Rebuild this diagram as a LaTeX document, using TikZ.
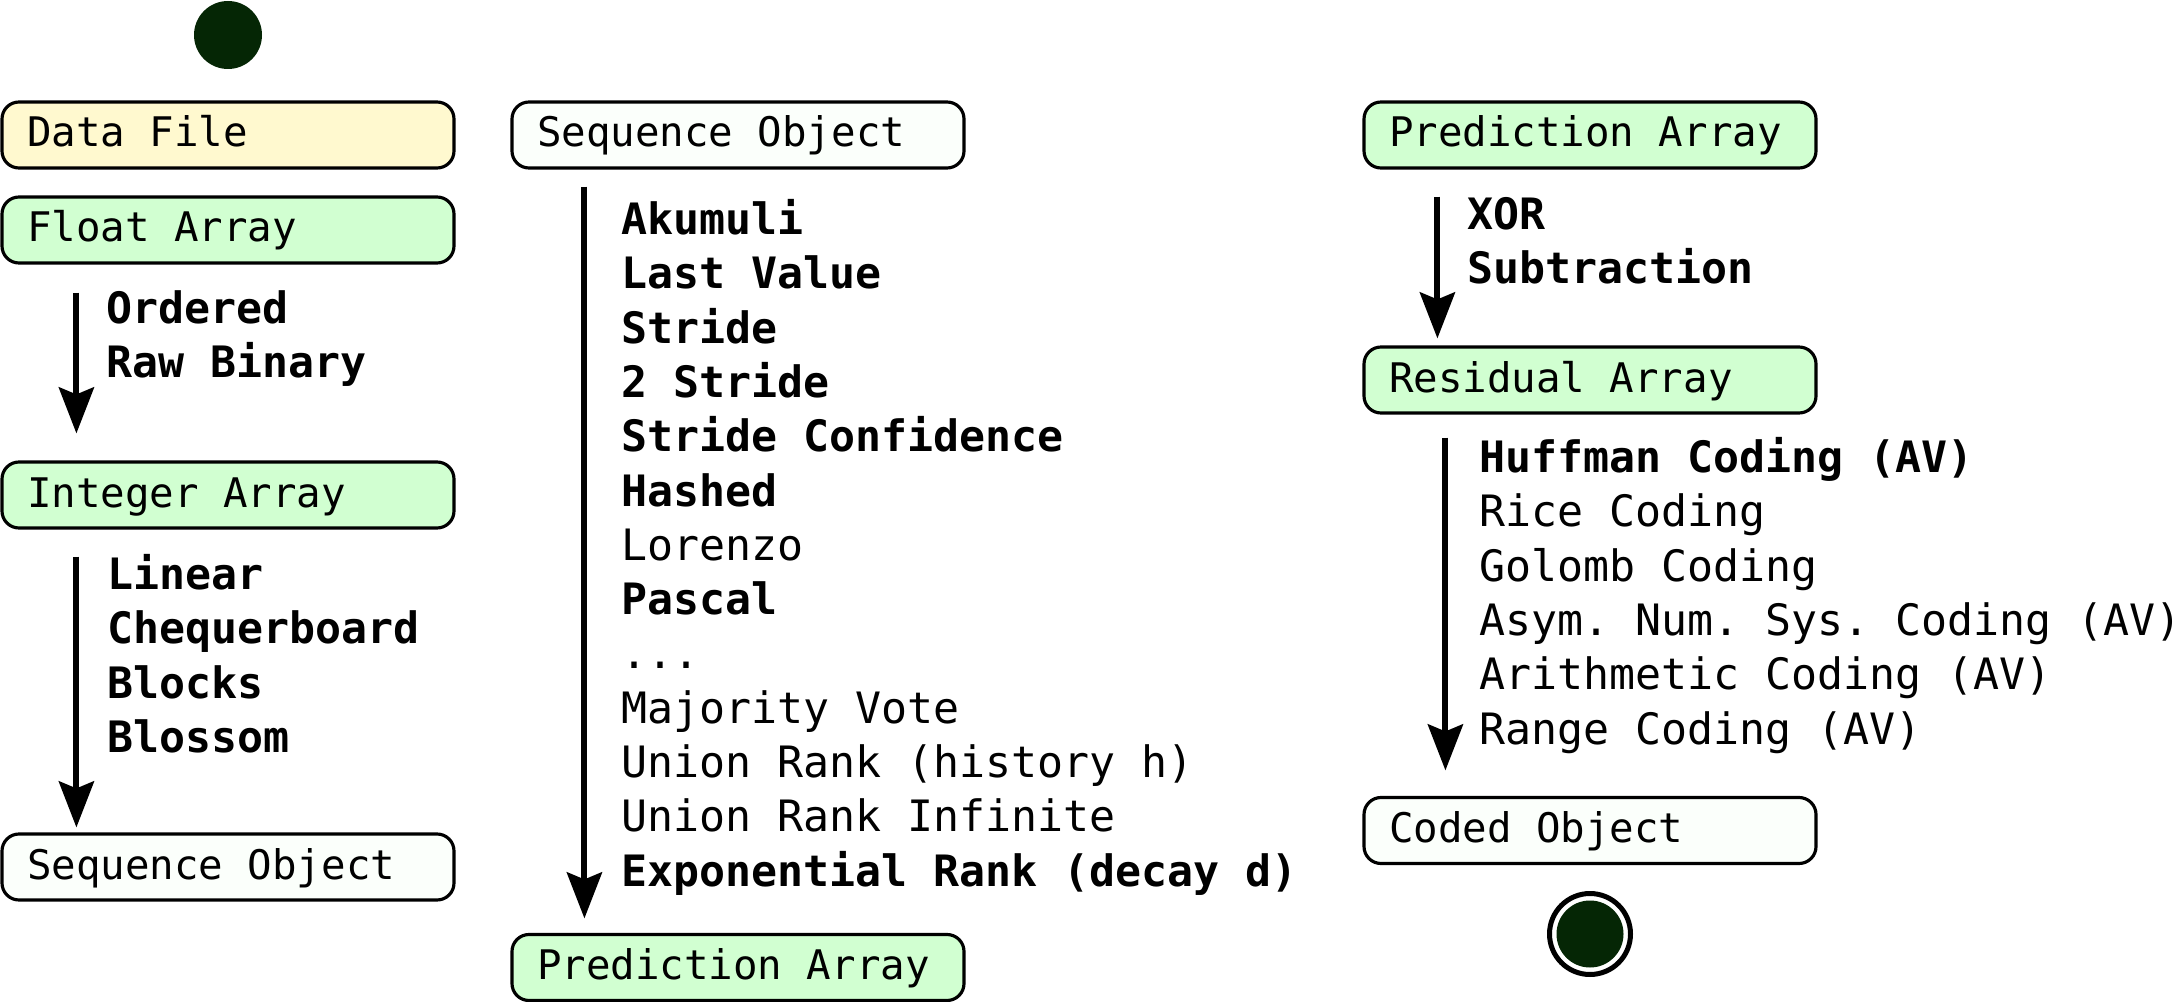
\documentclass[tikz,border=0pt]{standalone}
\usepackage{fontspec}
\setmonofont{DejaVu Sans Mono}
\usetikzlibrary{arrows.meta}
\definecolor{nodedark}{HTML}{052605}
\definecolor{filegold}{HTML}{FFF9CF}
\definecolor{arraygreen}{HTML}{D1FFD1}
\definecolor{objwhite}{HTML}{FBFFFB}
\newcommand{\boxfont}{\ttfamily\fontsize{11.6}{14}\selectfont}
\newcommand{\stepfont}{\ttfamily\fontsize{12.3}{15}\selectfont}
\newcommand{\skipdots}{...}
\tikzset{>={Stealth[length=4.6mm,width=3.5mm,inset=0.7mm]},
  state/.style={draw, line width=0.9pt, rounded corners=1.7mm, text width=4.02cm,
    inner xsep=2.5mm, inner ysep=0pt, minimum height=0.66cm, text height=3.2mm, text depth=0.8mm, font=\boxfont,
    execute at begin node={\spaceskip=0pt\xspaceskip=0pt\relax}},
  startdot/.style={circle, fill=nodedark, minimum size=0.68cm, inner sep=0pt},
  finish/.style={circle, draw, line width=0.5mm, fill=white, minimum size=0.81cm, inner sep=0pt},
  finishdot/.style={circle, fill=nodedark, minimum size=0.67cm, inner sep=0pt},
  flow/.style={->, line width=1.7pt},
  steplabel/.style={anchor=base west, inner sep=0pt, font=\stepfont},
  stepbold/.style={steplabel, font=\stepfont\bfseries}}

\begin{document}
\begin{tikzpicture}
    \useasboundingbox (0,0) rectangle (21.82,-10.02);

    \node[startdot] (init) at (2.28,-0.35) {};
    \node[state, fill=filegold] (datafile) at (2.28,-1.35) {Data File};
    \node[state, fill=arraygreen] (floatarr) at (2.28,-2.30) {Float Array};
    \node[state, fill=arraygreen] (intarr) at (2.28,-4.95) {Integer Array};
    \node[state, fill=objwhite] (seqleft) at (2.28,-8.67) {Sequence Object};

    \node[state, fill=objwhite] (seqmid) at (7.38,-1.35) {Sequence Object};
    \node[state, fill=arraygreen] (predmid) at (7.38,-9.675) {Prediction Array};

    \node[state, fill=arraygreen] (predright) at (15.90,-1.35) {Prediction Array};
    \node[state, fill=arraygreen] (resarr) at (15.90,-3.80) {Residual Array};
    \node[state, fill=objwhite] (coded) at (15.90,-8.305) {Coded Object};
    \node[finish] (final) at (15.90,-9.34) {};
    \node[finishdot] (finaldot) at (final) {};

    \draw[flow] ([xshift=7.6mm,yshift=-2.8mm]floatarr.south west) -- ([xshift=7.6mm,yshift=2.7mm]intarr.north west);
    \draw[flow] ([xshift=7.6mm,yshift=-2.7mm]intarr.south west) -- ([xshift=7.6mm,yshift=0.5mm]seqleft.north west);
    \draw[flow] ([xshift=7.4mm,yshift=-1.7mm]seqmid.south west) -- ([xshift=7.4mm,yshift=1.45mm]predmid.north west);
    \draw[flow] ([xshift=7.5mm,yshift=-2.7mm]predright.south west) -- ([xshift=7.5mm,yshift=0.7mm]resarr.north west);
    \draw[flow] ([xshift=8.3mm,yshift=-2.3mm]resarr.south west) -- ([xshift=8.3mm,yshift=2.55mm]coded.north west);

    \foreach \txt [count=\i from 0] in {Ordered, Raw Binary}
        \node[stepbold] (float\i) at ([xshift=10.5mm,yshift={-5.9mm-\i*5.43mm}]floatarr.south west) {\txt};
    \foreach \txt [count=\i from 0] in {Linear, Chequerboard, Blocks, Blossom}
        \node[stepbold] (int\i) at ([xshift=10.6mm,yshift={-6.0mm-\i*5.43mm}]intarr.south west) {\txt};
    \foreach \txt [count=\i from 0] in {\textbf{Akumuli}, \textbf{Last Value}, \textbf{Stride}, \textbf{2 Stride},
        \textbf{Stride Confidence}, \textbf{Hashed}, Lorenzo, \textbf{Pascal}, \skipdots, Majority Vote,
        Union Rank (history h), Union Rank Infinite, \textbf{Exponential Rank (decay d)}}
        \node[steplabel] (pred\i) at ([xshift=11.0mm,yshift={-6.5mm-\i*5.43mm}]seqmid.south west) {\txt};
    \foreach \txt [count=\i from 0] in {XOR, Subtraction}
        \node[stepbold] (res\i) at ([xshift=10.4mm,yshift={-6.0mm-\i*5.43mm}]predright.south west) {\txt};
    \foreach \txt [count=\i from 0] in {\textbf{Huffman Coding (AV)}, Rice Coding, Golomb Coding,
        Asym. Num. Sys. Coding (AV), Arithmetic Coding (AV), Range Coding (AV)}
        \node[steplabel] (code\i) at ([xshift=11.6mm,yshift={-5.8mm-\i*5.43mm}]resarr.south west) {\txt};
\end{tikzpicture}
\end{document}
